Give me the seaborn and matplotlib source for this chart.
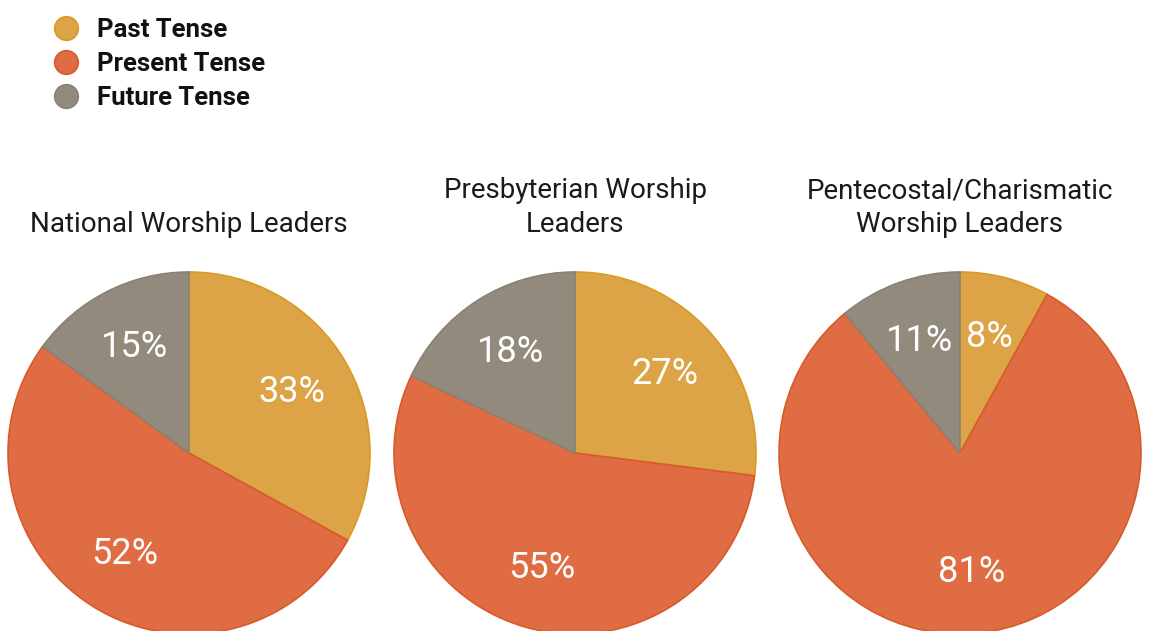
import matplotlib.pyplot as plt
import seaborn as sns
from matplotlib.lines import Line2D

# data
groups = ["National Worship Leaders",
          "Presbyterian Worship\nLeaders",
          "Pentecostal/Charismatic\nWorship Leaders"]
tenses = ["Past Tense", "Present Tense", "Future Tense"]
past = [33, 27, 8]
present = [52, 55, 81]
future = [15, 18, 11]

colors = ["#DCA447", "#DF6C42", "#938A7E"]
edges = ["#D99A22", "#D85A2A", "#8A8174"]

sns.set_theme(style="white")
plt.rcParams['font.family'] = ['Roboto', 'DejaVu Sans']

W, H = 1149, 631
fig = plt.figure(figsize=(W / 100, H / 100), dpi=100)

centers_x = [189, 575, 960]
center_y = 453
radius = 181

for i, name in enumerate(groups):
    cx = centers_x[i]
    ax = fig.add_axes([(cx - radius) / W, 1 - (center_y + radius) / H,
                       2 * radius / W, 2 * radius / H])
    vals = [past[i], present[i], future[i]]
    wedges, texts = ax.pie(
        vals, colors=colors, startangle=90, counterclock=False,
        labels=[f"{v}%" for v in vals], labeldistance=0.66,
        wedgeprops=dict(linewidth=1.2),
        textprops=dict(color="white", fontsize=26, ha="center", va="center"),
    )
    for w, ec in zip(wedges, edges):
        w.set_edgecolor(ec)
    ax.set_xlim(-1, 1)
    ax.set_ylim(-1, 1)
    ax.set_aspect("equal")
    ax.set_title(name, fontsize=20, color="#1a1a1a", pad=29, linespacing=1.32)

handles = [Line2D([0], [0], marker="o", linestyle="", markersize=17,
                  markerfacecolor=c, markeredgecolor=e, markeredgewidth=1.2)
           for c, e in zip(colors, edges)]
leg = fig.legend(handles, tenses, loc="upper left", bbox_to_anchor=(0.026, 1.008),
                 frameon=False, prop=dict(size=18.5, weight="bold"),
                 handlelength=1.0, handletextpad=0.7, labelspacing=0.38)
for t in leg.get_texts():
    t.set_color("#111111")

plt.savefig("out.png", dpi=100)
